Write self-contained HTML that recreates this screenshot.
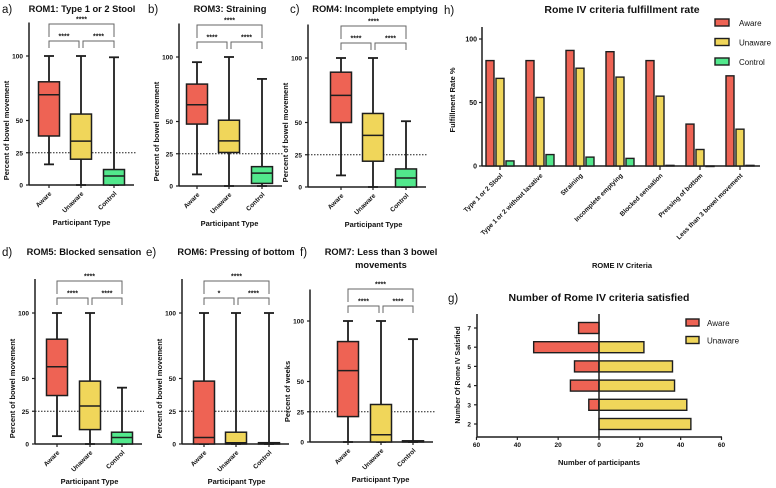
<!DOCTYPE html>
<html><head><meta charset="utf-8">
<style>
html,body{margin:0;padding:0;background:#fff;}
svg{display:block;font-family:"Liberation Sans",sans-serif;}
.t{font-weight:bold;fill:#111;}
</style></head>
<body>
<svg id="fig" width="776" height="488" viewBox="0 0 776 488" xmlns="http://www.w3.org/2000/svg"></svg>
<script>
// ---------- data ----------
const groups = ["Aware","Unaware","Control"];
const boxTitles = ["ROM1: Type 1 or 2 Stool","ROM3: Straining","ROM4: Incomplete emptying","ROM5: Blocked sensation","ROM6: Pressing of bottom","ROM7: Less than 3 bowel|movements"];
const boxLetters = ["a)","b)","c)","d)","e)","f)"];
const boxYLabels = ["Percent of bowel movement","Percent of bowel movement","Percent of bowel movement","Percent of bowel movement","Percent of bowel movement","Percent of weeks"];
// [min, q1, median, q3, max] for each group
const romA = [[16,38,70,80,100],[0,20,34,55,100],[0,0,7,12,99]];
const romB = [[9,48,63,79,96],[0,26,35,51,100],[0,2,10,15,83]];
const romC = [[9,50,71,89,100],[0,20,40,57,100],[0,0,7,14,51]];
const romD = [[6,37,59,80,100],[0,11,29,48,100],[0,0,5,9,43]];
const romE = [[0,0,5,48,100],[0,0,1,9,100],[0,0,0.5,1,100]];
const romF = [[0,21,59,83,100],[0,0,6,31,100],[0,0,0.5,1,85]];
const sigA = ["****","****","****"];
const sigB = ["****","****","****"];
const sigC = ["****","****","****"];
const sigD = ["****","****","****"];
const sigE = ["*","****","****"];
const sigF = ["****","****","****"];
const yTicks = [0,25,50,100];

const hCategories = ["Type 1 or 2 Stool","Type 1 or 2 without laxative","Straining","Incomplete emptying","Blocked sensation","Pressing of bottom","Less than 3 bowel movement"];
const hAware = [83,83,91,90,83,33,71];
const hUnaware = [69,54,77,70,55,13,29];
const hControl = [4,9,7,6,0.5,0,0.5];
const hTicks = [0,50,100];

const gCategories = [2,3,4,5,6,7];
const gAware = [0,5,14,12,32,10];
const gUnaware = [45,43,37,36,22,0];
const gTicks = [-60,-40,-20,0,20,40,60];

// ---------- helpers ----------
const NS="http://www.w3.org/2000/svg";
const svg=document.getElementById('fig');
const RED="#ee6354", YEL="#f0d65a", GRN="#52e88c", INK="#1e1e1e";
const colors=[RED,YEL,GRN];
function mk(tag,attrs,parent){const e=document.createElementNS(NS,tag);for(const k in attrs)e.setAttribute(k,attrs[k]);(parent||svg).appendChild(e);return e;}
function txt(s,x,y,size,attrs,parent){const e=mk('text',Object.assign({x:x,y:y,'font-size':size,class:'t'},attrs||{}),parent);e.textContent=s;return e;}

// ---------- box panels ----------
const boxData=[romA,romB,romC,romD,romE,romF];
const sigs=[sigA,sigB,sigC,sigD,sigE,sigF];
const layouts=[
 {ax:29,y0:185,y100:56,cx:[49,81,114],tx:82,ty:13,lx:2},
 {ax:179,y0:186,y100:57,cx:[197,229,262],tx:230,ty:13,lx:148},
 {ax:308,y0:187,y100:58,cx:[341,373,406],tx:375,ty:13,lx:290},
 {ax:35,y0:444,y100:313,cx:[57,90,122],tx:84,ty:256,lx:2},
 {ax:182,y0:444,y100:313,cx:[204,236,269],tx:236,ty:256,lx:146},
 {ax:310,y0:442,y100:321,cx:[348,381,413],tx:381,ty:256,lx:300}
];
layouts.forEach((L,p)=>{
  const g=mk('g',{});
  
  
  const s=(L.y0-L.y100)/100;
  const y=v=>L.y0-v*s;
  const xEnd=L.cx[2]+20;
  txt(boxLetters[p],L.lx,L.ty,11.5,{style:'font-weight:normal'},g);
  const tl=boxTitles[p].split('|');
  tl.forEach((line,i)=>{const t=txt(line,L.tx,L.ty-1+i*13,9.3,{'text-anchor':'middle'},g);});
  mk('line',{x1:L.ax,y1:y(126),x2:L.ax,y2:L.y0,stroke:INK,'stroke-width':1.5},g);
  mk('line',{x1:L.ax,y1:L.y0,x2:xEnd,y2:L.y0,stroke:INK,'stroke-width':1.5},g);
  yTicks.forEach(v=>{
    mk('line',{x1:L.ax-3,y1:y(v),x2:L.ax,y2:y(v),stroke:INK,'stroke-width':1.2},g);
    const t=txt(String(v),L.ax-6,y(v)+2.5,6.5,{'text-anchor':'end'},g);
    
  });
  mk('line',{x1:L.ax,y1:y(25),x2:xEnd+2,y2:y(25),stroke:INK,'stroke-width':0.9,'stroke-dasharray':'1.5,1.5'},g);
  const yl=txt(boxYLabels[p],L.ax-20,(y(0)+y(100))/2+10,7.5,{'text-anchor':'middle',transform:`rotate(-90 ${L.ax-20} ${(y(0)+y(100))/2+10})`},g);
  
  const xl=txt('Participant Type',(L.cx[0]+L.cx[2])/2,L.y0+40,7.5,{'text-anchor':'middle'},g);
  
  boxData[p].forEach((d,i)=>{
    const cx=L.cx[i],w=21;
    const b=mk('g',{},g);
    
    
    mk('line',{x1:cx,y1:y(d[0]),x2:cx,y2:y(d[4]),stroke:INK,'stroke-width':1.8},b);
    mk('line',{x1:cx-5,y1:y(d[0]),x2:cx+5,y2:y(d[0]),stroke:INK,'stroke-width':1.8},b);
    mk('line',{x1:cx-5,y1:y(d[4]),x2:cx+5,y2:y(d[4]),stroke:INK,'stroke-width':1.8},b);
    mk('rect',{x:cx-w/2,y:y(d[3]),width:w,height:Math.max(1,y(d[1])-y(d[3])),fill:colors[i],stroke:INK,'stroke-width':1.5},b);
    mk('line',{x1:cx-w/2,y1:y(d[2]),x2:cx+w/2,y2:y(d[2]),stroke:INK,'stroke-width':1.5},b);
    mk('line',{x1:cx,y1:L.y0,x2:cx,y2:L.y0+3,stroke:INK,'stroke-width':1.2},g);
    const t=txt(groups[i],cx+3,L.y0+9,6.5,{'text-anchor':'end',transform:`rotate(-45 ${cx+3} ${L.y0+9})`},g);
    
  });
  const sg=sigs[p];
  const ly=L.y100-15, uy=L.y100-32;
  const br=(x1,x2,yy,legs,label)=>{
    mk('path',{d:`M${x1} ${yy+legs}V${yy}H${x2}V${yy+legs}`,fill:'none',stroke:'#666','stroke-width':1},g);
    const t=txt(label,(x1+x2)/2,yy-2.5,7,{'text-anchor':'middle'},g);
    
  };
  br(L.cx[0],L.cx[1]-2,ly,7,sg[0]);
  br(L.cx[1]+2,L.cx[2],ly,7,sg[1]);
  br(L.cx[0],L.cx[2],uy,13,sg[2]);
});

// ---------- panel h ----------
(function(){
  const g=mk('g',{});
  
  
  const ax=482,y0=166,y100=39,xEnd=760;
  const y=v=>y0-v*(y0-y100)/100;
  const x=i=>500+i*40;
  txt('h)',444,14,11.5,{style:'font-weight:normal'},g);
  const tt=txt('Rome IV criteria fulfillment rate',622,13,10.5,{'text-anchor':'middle'},g);
  
  mk('line',{x1:ax,y1:27,x2:ax,y2:y0,stroke:INK,'stroke-width':1.5},g);
  mk('line',{x1:ax,y1:y0,x2:xEnd,y2:y0,stroke:INK,'stroke-width':1.5},g);
  hTicks.forEach(v=>{
    mk('line',{x1:ax-3,y1:y(v),x2:ax,y2:y(v),stroke:INK,'stroke-width':1.2},g);
    const t=txt(String(v),ax-5,y(v)+2.5,7,{'text-anchor':'end'},g);
    
  });
  const yl=txt('Fulfillment Rate %',455,100,7.5,{'text-anchor':'middle',transform:'rotate(-90 455 100)'},g);
  
  const series=[hAware,hUnaware,hControl];
  hCategories.forEach((c,i)=>{
    series.forEach((arr,k)=>{
      const v=arr[i];
      const r=mk('rect',{x:x(i)+(k-1)*10-4,y:y(v),width:8,height:Math.max(0.5,y0-y(v)),fill:colors[k],stroke:INK,'stroke-width':1.4},g);
      
      
    });
    mk('line',{x1:x(i),y1:y0,x2:x(i),y2:y0+4,stroke:INK,'stroke-width':1.2},g);
    const t=txt(c,x(i)+3,y0+10,6.5,{'text-anchor':'end',transform:`rotate(-45 ${x(i)+3} ${y0+10})`},g);
    
  });
  const xl=txt('ROME IV Criteria',622,268,7.5,{'text-anchor':'middle'},g);
  
  groups.forEach((n,k)=>{
    const lg=mk('g',{},g);
    
    
    mk('rect',{x:715,y:19+k*19.5,width:14,height:7,fill:colors[k],stroke:INK,'stroke-width':1.4},lg);
    txt(n,739,26+k*19.5,8,{style:'font-weight:normal'},lg);
  });
})();

// ---------- panel g ----------
(function(){
  const g=mk('g',{});
  
  
  const ax=477,axEnd=722,y0=437,x0=599;
  const sx=(axEnd-ax)/120;
  const x=v=>x0+v*sx;
  const y=c=>424-(c-2)*19.2;
  txt('g)',448,302,11.5,{style:'font-weight:normal'},g);
  const tt=txt('Number of Rome IV criteria satisfied',599,301,10.5,{'text-anchor':'middle'},g);
  
  mk('line',{x1:ax,y1:314,x2:ax,y2:y0,stroke:INK,'stroke-width':1.5},g);
  mk('line',{x1:ax,y1:y0,x2:axEnd,y2:y0,stroke:INK,'stroke-width':1.5},g);
  gTicks.forEach(v=>{
    mk('line',{x1:x(v),y1:y0,x2:x(v),y2:y0+3,stroke:INK,'stroke-width':1.2},g);
    const t=txt(String(Math.abs(v)),x(v),y0+10,6.5,{'text-anchor':'middle'},g);
    
  });
  gCategories.forEach((c,i)=>{
    mk('line',{x1:ax-3,y1:y(c),x2:ax,y2:y(c),stroke:INK,'stroke-width':1.2},g);
    const t=txt(String(c),ax-6,y(c)+2.5,6.5,{'text-anchor':'end'},g);
    
    if(gAware[i]>0){
      const r=mk('rect',{x:x(-gAware[i]),y:y(c)-5.5,width:x(0)-x(-gAware[i]),height:11,fill:RED,stroke:INK,'stroke-width':1.4},g);
      
    }
    if(gUnaware[i]>0){
      const r=mk('rect',{x:x(0),y:y(c)-5.5,width:x(gUnaware[i])-x(0),height:11,fill:YEL,stroke:INK,'stroke-width':1.4},g);
      
    }
  });
  mk('line',{x1:x0,y1:314,x2:x0,y2:y0,stroke:INK,'stroke-width':1.5},g);
  const yl=txt('Number Of Rome IV Satisfied',460,375,7,{'text-anchor':'middle',transform:'rotate(-90 460 375)'},g);
  
  const xl=txt('Number of participants',599,465,7.5,{'text-anchor':'middle'},g);
  
  ['Aware','Unaware'].forEach((n,k)=>{
    const lg=mk('g',{},g);
    
    
    mk('rect',{x:686,y:319+k*17.5,width:13,height:7,fill:colors[k],stroke:INK,'stroke-width':1.4},lg);
    txt(n,707,326+k*17.5,8,{style:'font-weight:normal'},lg);
  });
})();
</script>
</body></html>
